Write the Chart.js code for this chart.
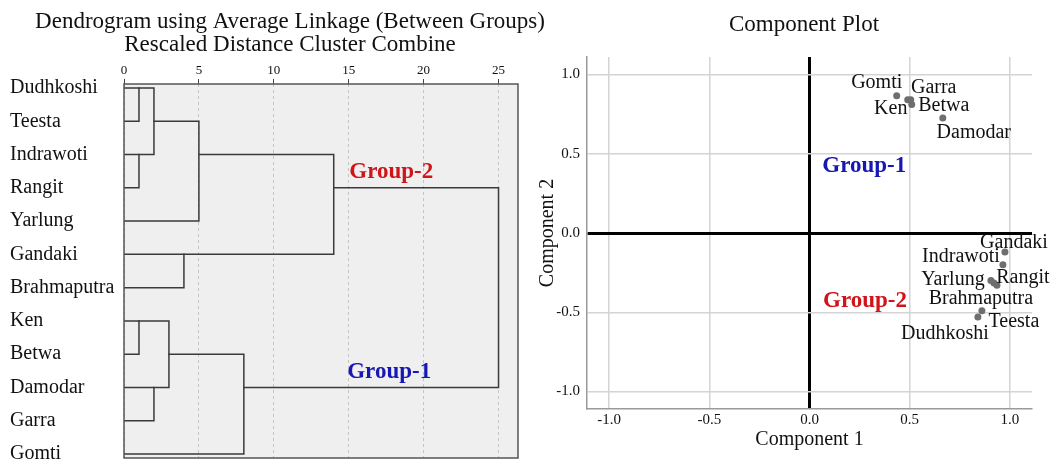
<!DOCTYPE html>
<html><head><meta charset="utf-8">
<script src="https://cdn.jsdelivr.net/npm/chart.js@4/dist/chart.umd.min.js"></script>
<style>
html,body{margin:0;padding:0;background:#fff;}
#wrap{position:relative;width:1057px;height:461px;}
canvas{position:absolute;left:0;top:0;}
</style></head><body>
<div id="wrap"><canvas id="dendro" width="1057" height="461"></canvas><canvas id="comp" width="1057" height="461"></canvas></div>
<script>
// ---------- Dendrogram data ----------
const rivers = ['Dudhkoshi','Teesta','Indrawoti','Rangit','Yarlung','Gandaki','Brahmaputra','Ken','Betwa','Damodar','Garra','Gomti'];
// merges: node ids 0..11 are leaves, merge k creates node 12+k
const mergeA = [0, 2, 7, 9, 12, 14, 5, 16, 17, 19, 21];
const mergeB = [1, 3, 8, 10, 13, 15, 6, 4, 11, 18, 20];
const mergeDist = [1, 1, 1, 2, 2, 3, 4, 5, 8, 14, 25];
const distTicks = [0, 5, 10, 15, 20, 25];

// ---------- Component plot data ----------
const compNames = ['Gomti','Ken','Garra','Betwa','Damodar','Gandaki','Indrawoti','Yarlung','Brahmaputra','Rangit','Teesta','Dudhkoshi'];
const comp1 = [0.435, 0.49, 0.505, 0.51, 0.665, 0.975, 0.965, 0.905, 0.92, 0.935, 0.86, 0.84];
const comp2 = [0.866, 0.84, 0.84, 0.81, 0.725, -0.12, -0.20, -0.30, -0.315, -0.33, -0.49, -0.53];
const compTicks = [-1, -0.5, 0, 0.5, 1];

// label placement (styling only)
const labelOffsets = {
  Gomti:[-20,-13], Ken:[-17,9], Garra:[23,-12], Betwa:[32,1.5], Damodar:[31,15],
  Gandaki:[9,-9], Indrawoti:[-42,-8], Yarlung:[-38,-1], Brahmaputra:[-13,16],
  Rangit:[26,-8], Teesta:[32,11], Dudhkoshi:[-33,17]
};

const SERIF = "'Liberation Serif', 'Times New Roman', serif";
Chart.defaults.font.family = SERIF;
Chart.defaults.color = '#111';

// ---------- build dendrogram segments ----------
const nodeRow = rivers.map((_, i) => i);
const nodeMin = rivers.map((_, i) => i);
const nodeMax = rivers.map((_, i) => i);
const nodeH = rivers.map(() => 0);
const segs = [];
mergeA.forEach((a, k) => {
  const b = mergeB[k], h = mergeDist[k];
  segs.push([
    {x: nodeH[a], y: nodeRow[a]}, {x: h, y: nodeRow[a]},
    {x: h, y: nodeRow[b]}, {x: nodeH[b], y: nodeRow[b]}
  ]);
  const lo = Math.min(nodeMin[a], nodeMin[b]), hi = Math.max(nodeMax[a], nodeMax[b]);
  nodeRow.push(Math.floor((lo + hi) / 2)); nodeMin.push(lo); nodeMax.push(hi); nodeH.push(h);
});

const dendroDeco = {
  id: 'dendroDeco',
  beforeDraw(chart) {
    const {ctx, chartArea: a} = chart;
    ctx.save(); ctx.fillStyle = '#efefef';
    ctx.fillRect(a.left, a.top, a.right - a.left, a.bottom - a.top); ctx.restore();
  },
  afterDatasetsDraw(chart) {
    const {ctx, chartArea: a, scales: {x, y}} = chart;
    ctx.save();
    ctx.strokeStyle = '#555'; ctx.lineWidth = 1.5;
    ctx.strokeRect(a.left, a.top, a.right - a.left, a.bottom - a.top);
    ctx.font = "bold 23px " + SERIF; ctx.textAlign = 'center'; ctx.textBaseline = 'middle';
    ctx.fillStyle = '#d0141a'; ctx.fillText('Group-2', x.getPixelForValue(17.84), y.getPixelForValue(2.53));
    ctx.fillStyle = '#1717b3'; ctx.fillText('Group-1', x.getPixelForValue(17.7), y.getPixelForValue(8.53));
    ctx.fillStyle = '#111'; ctx.font = "23px " + SERIF;
    ctx.fillText('Dendrogram using Average Linkage (Between Groups)', 290, 22);
    ctx.fillText('Rescaled Distance Cluster Combine', 290, 45);
    ctx.restore();
  }
};

new Chart(document.getElementById('dendro'), {
  type: 'line',
  data: {datasets: segs.map(s => ({
    data: s, borderColor: '#3a3a3a', borderWidth: 1.5, pointRadius: 0, tension: 0,
    fill: false, borderCapStyle: 'square', borderJoinStyle: 'miter'
  }))},
  options: {
    responsive: false, animation: false, events: [],
    layout: {padding: {left: 10, top: 60, right: 539, bottom: 3}},
    plugins: {legend: {display: false}, tooltip: {enabled: false}},
    scales: {
      x: {type: 'linear', position: 'top', min: 0, max: 26.3,
        afterBuildTicks: s => { s.ticks = distTicks.map(v => ({value: v})); },
        afterFit: s => { s.height = 24; s.paddingLeft = 0; s.paddingRight = 0; },
        ticks: {font: {size: 13}, color: '#111', padding: 1, maxRotation: 0, autoSkip: false},
        grid: {color: '#c4c4c4', lineWidth: 1, tickLength: 5, tickColor: '#444', tickWidth: 1, tickBorderDash: []},
        border: {display: false, dash: [3, 3]}},
      y: {type: 'linear', reverse: true, min: -0.12, max: 11.12,
        afterBuildTicks: s => { s.ticks = rivers.map((_, i) => ({value: i})); },
        afterFit: s => { s.width = 114; s.paddingTop = 0; s.paddingBottom = 0; },
        ticks: {font: {size: 20}, color: '#111', crossAlign: 'far', padding: 0, autoSkip: false,
          callback: v => rivers[v]},
        grid: {display: false}, border: {display: false}}
    }
  },
  plugins: [dendroDeco]
});

const compDeco = {
  id: 'compDeco',
  afterDatasetsDraw(chart) {
    const {ctx, scales: {x, y}} = chart;
    const meta = chart.getDatasetMeta(0);
    ctx.save();
    ctx.font = "20px " + SERIF; ctx.textAlign = 'center'; ctx.textBaseline = 'middle'; ctx.fillStyle = '#111';
    meta.data.forEach((pt, i) => {
      const off = labelOffsets[compNames[i]] || [0, -12];
      ctx.fillText(compNames[i], pt.x + off[0], pt.y + off[1]);
    });
    ctx.font = "bold 23px " + SERIF;
    ctx.fillStyle = '#1717b3'; ctx.fillText('Group-1', x.getPixelForValue(0.273), y.getPixelForValue(0.42));
    ctx.fillStyle = '#d0141a'; ctx.fillText('Group-2', x.getPixelForValue(0.277), y.getPixelForValue(-0.43));
    ctx.fillStyle = '#111'; ctx.font = "23px " + SERIF;
    ctx.fillText('Component Plot', 804, 25);
    ctx.restore();
  }
};

const zeroColor = c => (c.tick && c.tick.value === 0) ? '#000' : '#d4d4d4';
const zeroWidth = c => (c.tick && c.tick.value === 0) ? 3 : 1.5;

new Chart(document.getElementById('comp'), {
  type: 'scatter',
  data: {datasets: [{
    data: comp1.map((v, i) => ({x: v, y: comp2[i]})),
    backgroundColor: '#6e6e6e', borderWidth: 0, pointRadius: 3.5
  }]},
  options: {
    responsive: false, animation: false, events: [],
    layout: {padding: {left: 530, top: 57, right: 25, bottom: 0}},
    plugins: {legend: {display: false}, tooltip: {enabled: false}},
    scales: {
      x: {type: 'linear', min: -1.11, max: 1.11,
        afterBuildTicks: s => { s.ticks = compTicks.map(v => ({value: v})); },
        afterFit: s => { s.height = 52; s.paddingLeft = 0; s.paddingRight = 0; },
        ticks: {font: {size: 15}, color: '#111', padding: 2, autoSkip: false, maxRotation: 0,
          callback: v => Number(v).toFixed(1)},
        grid: {drawTicks: false, color: zeroColor, lineWidth: zeroWidth},
        border: {display: true, color: '#9a9a9a', width: 1.5},
        title: {display: true, text: 'Component 1', font: {size: 20}, color: '#111', padding: {top: 0, bottom: 9}}},
      y: {type: 'linear', min: -1.11, max: 1.11,
        afterBuildTicks: s => { s.ticks = compTicks.map(v => ({value: v})); },
        afterFit: s => { s.width = 57; s.paddingTop = 0; s.paddingBottom = 0; },
        ticks: {font: {size: 15}, color: '#111', padding: 7, autoSkip: false,
          callback: v => Number(v).toFixed(1)},
        grid: {drawTicks: false, color: zeroColor, lineWidth: zeroWidth},
        border: {display: true, color: '#9a9a9a', width: 1.5},
        title: {display: true, text: 'Component 2', font: {size: 20}, color: '#111', padding: {top: 6, bottom: 0}}}
    }
  },
  plugins: [compDeco]
});
</script>
</body></html>
